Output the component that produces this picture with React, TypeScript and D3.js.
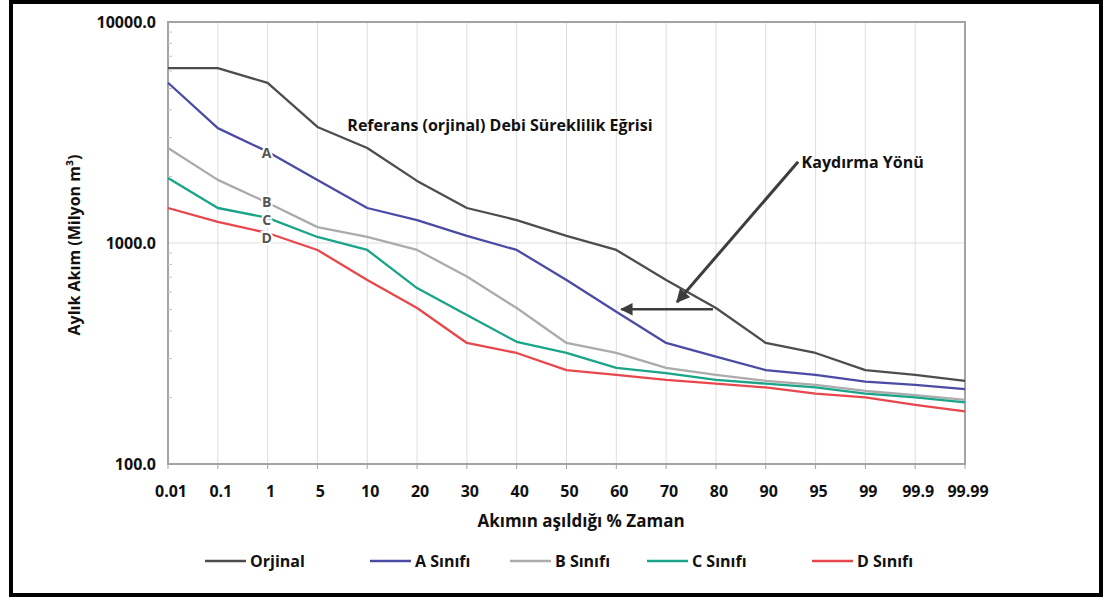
import React from 'react';
import * as d3 from 'd3';

// x categories: % of time the flow is exceeded
const xCats = ['0.01', '0.1', '1', '5', '10', '20', '30', '40', '50', '60', '70', '80', '90', '95', '99', '99.9', '99.99'];

// monthly flow (million m3)
const orjinal = [6190, 6190, 5300, 3350, 2690, 1910, 1440, 1270, 1076, 930, 680, 508, 353, 318, 266, 253, 238];
const sinifA = [5310, 3310, 2590, 1930, 1440, 1270, 1076, 930, 680, 489, 353, 306, 266, 253, 236, 228, 218];
const sinifB = [2690, 1930, 1520, 1180, 1065, 930, 705, 508, 353, 318, 272, 253, 238, 228, 214, 205, 195];
const sinifC = [1970, 1440, 1300, 1065, 930, 625, 472, 357, 318, 272, 258, 240, 231, 222, 208, 200, 190];
const sinifD = [1440, 1245, 1110, 930, 680, 508, 353, 318, 266, 253, 240, 231, 222, 208, 200, 185, 173];

const yTicks = [100, 1000, 10000];
const yTickLabels = ['100.0', '1000.0', '10000.0'];

const seriesNames = ['Orjinal', 'A Sınıfı', 'B Sınıfı', 'C Sınıfı', 'D Sınıfı'];
const seriesTags = ['', 'A', 'B', 'C', 'D'];
// where each class letter sits on the 1 % gridline
const tagValues = [0, 2560, 1530, 1275, 1050];
const seriesColors = ['#4d4d4d', '#4b4ba3', '#ababab', '#1aa488', '#e8474c'];
const seriesData = [orjinal, sinifA, sinifB, sinifC, sinifD];

const W = 1105;
const H = 598;
const margin = { top: 22, right: 140, bottom: 134, left: 168 };
const FONT = '"Open Sans", "DejaVu Sans", sans-serif';

const App = () => {
  const x = d3.scalePoint<string>().domain(xCats).range([margin.left, W - margin.right]);
  const y = d3.scaleLog().domain([100, 10000]).range([H - margin.bottom, margin.top]);
  // fractional category index -> pixel, for annotations placed between ticks
  const xAt = (i: number) => (x(xCats[0]) as number) + i * x.step();

  const line = d3.line<number>()
    .x((_, i) => x(xCats[i]) as number)
    .y(d => y(d))
    .curve(d3.curveLinear);

  const x0 = margin.left;
  const x1 = W - margin.right;
  const y0 = H - margin.bottom;
  const y1 = margin.top;

  const minorTicks: number[] = [];
  [100, 1000].forEach(dec => { for (let k = 2; k < 10; k++) minorTicks.push(dec * k); });

  const legendX = [205, 370, 510, 647, 812];
  const legendY = 561;

  // annotation arrows in data space: [index, value]
  const diagArrow = { from: [12.65, 2330], to: [10.22, 541] };
  const horizArrow = { from: [10.94, 501], to: [9.1, 501] };

  const bold = { fontFamily: FONT, fontWeight: 700 } as const;

  return (
    <svg width={W} height={H} style={{ position: 'absolute', left: 0, top: 0, background: '#fff' }}>
      <defs>
        <marker id="head" viewBox="0 0 10 10" refX="9" refY="5" markerWidth="5" markerHeight="4.5"
          markerUnits="strokeWidth" orient="auto">
          <path d="M0,0 L10,5 L0,10 z" fill="#3d3d3d" />
        </marker>
        <marker id="head2" viewBox="0 0 10 10" refX="9" refY="5" markerWidth="6" markerHeight="5"
          markerUnits="strokeWidth" orient="auto">
          <path d="M0,0 L10,5 L0,10 z" fill="#3d3d3d" />
        </marker>
      </defs>
      <rect x={11} y={2} width={1090} height={593} fill="#fff" stroke="#000" strokeWidth={4} />

      {/* grid */}
      {xCats.map(c => (
        <line key={c} x1={x(c)} x2={x(c)} y1={y1} y2={y0} stroke="#dedede" strokeWidth={1} />
      ))}
      {yTicks.map(t => (
        <line key={t} x1={x0} x2={x1} y1={y(t)} y2={y(t)} stroke="#dedede" strokeWidth={1} />
      ))}
      <rect x={x0} y={y1} width={x1 - x0} height={y0 - y1} fill="none" stroke="#a3a3a3" strokeWidth={2} />

      {/* ticks */}
      {xCats.map(c => (
        <line key={c} x1={x(c)} x2={x(c)} y1={y0} y2={y0 + 5} stroke="#a3a3a3" strokeWidth={1} />
      ))}
      {minorTicks.map(t => (
        <line key={t} x1={x0} x2={x0 + 4} y1={y(t)} y2={y(t)} stroke="#c4c4c4" strokeWidth={1} />
      ))}
      {xCats.map(c => (
        <text key={c} x={(x(c) as number) + 3} y={497} textAnchor="middle" fontSize={16} {...bold} fill="#111">{c}</text>
      ))}
      {yTicks.map((t, i) => (
        <text key={t} x={156} y={y(t)} dy="0.35em" textAnchor="end" fontSize={16} {...bold} fill="#111">{yTickLabels[i]}</text>
      ))}

      {/* axis titles */}
      <text transform={`translate(74,${(y0 + y1) / 2 + 2}) rotate(-90)`} dy="0.35em" textAnchor="middle"
        fontSize={16} {...bold} fill="#111">Aylık Akım (Milyon m³)</text>
      <text x={581} y={527} textAnchor="middle" fontSize={17} {...bold} fill="#111">Akımın aşıldığı % Zaman</text>

      {/* series */}
      {seriesData.map((s, i) => (
        <path key={seriesNames[i]} d={line(s) || ''} fill="none" stroke={seriesColors[i]} strokeWidth={2.3}
          strokeLinejoin="round" />
      ))}

      {/* class letters on curves at 1 % */}
      {seriesTags.map((tag, i) => tag ? (
        <text key={tag} x={(x(xCats[2]) as number) - 1} y={y(tagValues[i])} dy="0.36em"
          textAnchor="middle" fontSize={14} {...bold} fill="#555" stroke="#fff" strokeWidth={4}
          paintOrder="stroke">{tag}</text>
      ) : null)}

      {/* annotations */}
      <text x={xAt(3.6)} y={y(3210)} fontSize={16} {...bold} fill="#111">Referans (orjinal) Debi Süreklilik Eğrisi</text>
      <text x={xAt(12.72)} y={y(2180)} fontSize={16} {...bold} fill="#111">Kaydırma Yönü</text>
      <line x1={xAt(diagArrow.from[0])} y1={y(diagArrow.from[1])} x2={xAt(diagArrow.to[0])} y2={y(diagArrow.to[1])}
        stroke="#3d3d3d" strokeWidth={3} markerEnd="url(#head)" />
      <line x1={xAt(horizArrow.from[0])} y1={y(horizArrow.from[1])} x2={xAt(horizArrow.to[0])} y2={y(horizArrow.to[1])}
        stroke="#3d3d3d" strokeWidth={2.5} markerEnd="url(#head2)" />

      {/* legend */}
      {seriesNames.map((n, i) => (
        <g key={n}>
          <line x1={legendX[i]} x2={legendX[i] + 41} y1={legendY} y2={legendY} stroke={seriesColors[i]} strokeWidth={2.5} />
          <text x={legendX[i] + 45} y={legendY} dy="0.35em" fontSize={16} {...bold} fill="#111">{n}</text>
        </g>
      ))}
    </svg>
  );
};

export default App;
